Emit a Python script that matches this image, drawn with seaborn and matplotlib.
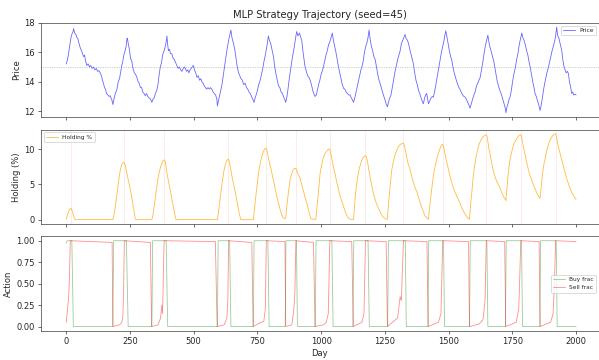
import matplotlib
matplotlib.use("Agg")
import matplotlib.pyplot as plt
import seaborn as sns
import pandas as pd

# ---------------- data ----------------
price_day = [0, 5, 10, 15, 20, 24, 27, 29, 33, 38, 42, 46, 50, 55, 60, 64, 68, 72, 76, 81,
             86, 91, 96, 101, 107, 112, 118, 123, 128, 133, 138, 142, 146, 150, 154, 158, 163, 168, 172, 176, 180, 183,
             187, 191, 195, 199, 204, 209, 214, 218, 222, 226, 231, 235, 238, 240,
             244, 248, 252, 257, 262, 267, 272, 277, 282, 286, 291, 296, 300, 305, 310, 315, 320, 325, 330, 336,
             340, 345, 350, 355, 360, 364, 369, 374, 378, 382, 386, 390, 393, 395,
             398, 401, 405, 409, 414, 419, 424, 429, 434, 439, 444, 449, 454, 459, 463, 467, 472, 477, 481, 486,
             490, 494, 499, 503, 508, 513, 518, 523, 528, 532, 537, 542, 546, 551, 556, 561, 566, 571, 576, 581, 586, 591, 593,
             597, 601, 606, 611, 616, 621, 626, 630, 634, 638, 642, 646,
             650, 656, 661, 666, 671, 676, 681, 686, 691, 696, 702, 707, 712, 717, 722, 727, 732, 737,
             741, 745, 750, 755, 761, 766, 771, 776, 780, 785, 789, 793,
             797, 802, 807, 813, 818, 823, 828, 833, 838, 843, 848, 852, 857, 861,
             865, 870, 875, 880, 885, 890, 895, 900, 904, 909, 915,
             920, 924, 929, 933, 937, 942, 947, 952, 957, 962, 967, 971, 976,
             981, 986, 990, 995, 1000, 1004, 1009, 1014, 1019, 1024, 1029, 1034, 1039, 1044,
             1048, 1053, 1058, 1063, 1068, 1073, 1078, 1083, 1088, 1093, 1098, 1103, 1108, 1114, 1118, 1122, 1127,
             1132, 1137, 1142, 1147, 1152, 1156, 1160, 1165, 1170, 1175, 1179, 1184, 1188,
             1192, 1197, 1202, 1207, 1212, 1217, 1222, 1227, 1231, 1236, 1241, 1246, 1250, 1255, 1260,
             1264, 1269, 1274, 1279, 1284, 1289, 1294, 1300, 1305, 1310, 1315, 1320, 1325, 1329,
             1334, 1339, 1344, 1349, 1355, 1362, 1367, 1372, 1377, 1382, 1387, 1392, 1396, 1401,
             1406, 1410, 1414, 1418, 1421, 1426, 1431, 1436, 1440, 1445, 1450, 1455, 1460, 1467, 1472, 1477, 1482, 1486, 1489,
             1494, 1499, 1503, 1508, 1512, 1517, 1522, 1527, 1532, 1539, 1544, 1549, 1555, 1560, 1565, 1570, 1575, 1580, 1584,
             1589, 1594, 1599, 1604, 1609, 1614, 1619, 1624, 1629, 1634, 1639, 1644, 1649, 1654,
             1658, 1663, 1668, 1672, 1676, 1681, 1686, 1691, 1696, 1701, 1706, 1711, 1716, 1721, 1725, 1729, 1733, 1737, 1741,
             1746, 1751, 1756, 1761, 1767, 1772, 1777, 1782, 1787,
             1791, 1796, 1801, 1806, 1811, 1815, 1820, 1825, 1830, 1835, 1839, 1844, 1849, 1854, 1859,
             1863, 1868, 1872, 1877, 1882, 1887, 1892, 1897, 1902, 1906, 1911, 1915, 1919, 1924,
             1928, 1932, 1936, 1940, 1944, 1948, 1953, 1957, 1961, 1966, 1970, 1974, 1979, 1983, 1987, 1991, 1996, 2000]
price_val = [15.2, 15.5, 16.0, 16.6, 17.1, 17.3, 17.4, 17.6, 17.3, 17.2, 17.0, 16.9, 16.6, 16.3, 16.1, 15.9, 15.7, 15.8, 15.4, 15.1,
             15.2, 15.0, 15.1, 14.9, 15.0, 14.8, 14.9, 14.7, 14.75, 14.6, 14.4, 14.1, 13.9, 13.6, 13.5, 13.2, 13.1, 13.0, 13.05, 12.9, 12.7, 12.45,
             12.8, 13.1, 13.3, 13.5, 14.0, 14.2, 14.7, 15.1, 15.4, 15.8, 16.1, 16.4, 16.9, 16.95,
             16.5, 16.2, 15.6, 15.4, 14.9, 14.6, 14.5, 14.3, 14.0, 13.9, 13.6, 13.6, 13.3, 13.2, 13.05, 13.2, 13.0, 12.9, 12.85, 12.6,
             12.8, 12.9, 13.2, 13.4, 13.8, 14.4, 15.0, 15.3, 15.8, 16.0, 16.2, 16.5, 16.8, 17.1,
             16.5, 16.1, 16.2, 15.9, 15.9, 15.6, 15.5, 15.3, 15.1, 14.9, 15.0, 14.8, 14.7, 14.9, 15.0, 14.9, 14.7, 14.8, 14.6, 14.8,
             14.9, 15.0, 15.1, 14.8, 14.6, 14.3, 14.4, 14.1, 14.2, 14.0, 13.9, 13.7, 13.6, 13.5, 13.6, 13.5, 13.6, 13.5, 13.3, 13.2, 13.1, 12.8, 12.35,
             12.7, 13.0, 13.4, 13.8, 14.4, 15.0, 15.6, 16.1, 16.5, 16.9, 17.2, 17.5,
             17.0, 16.6, 16.2, 15.6, 15.0, 14.6, 14.4, 14.2, 14.1, 13.8, 13.9, 13.6, 13.5, 13.3, 13.2, 13.0, 12.8, 12.6,
             12.9, 13.1, 13.4, 13.8, 14.1, 14.5, 14.9, 15.4, 15.7, 16.2, 16.6, 17.1,
             16.8, 16.6, 16.2, 15.7, 15.0, 14.5, 14.1, 13.7, 13.6, 13.3, 13.2, 13.0, 12.8, 12.6,
             12.9, 13.5, 14.2, 14.8, 15.4, 15.9, 16.4, 17.0, 17.4, 17.1, 17.3,
             17.0, 16.8, 16.0, 15.5, 15.0, 14.7, 14.4, 14.3, 14.1, 13.8, 13.4, 13.2, 13.0,
             13.1, 13.5, 13.8, 14.1, 14.5, 14.7, 15.0, 15.4, 15.8, 16.1, 16.5, 16.7, 17.0, 17.3,
             16.8, 16.4, 16.0, 15.5, 15.0, 14.6, 14.2, 13.8, 13.55, 13.5, 13.3, 13.2, 13.1, 13.1, 12.9, 12.8, 12.6,
             12.9, 13.3, 13.7, 14.1, 14.5, 14.8, 15.0, 15.4, 16.0, 16.4, 16.6, 17.0, 17.5,
             16.9, 16.4, 16.1, 15.7, 15.5, 15.0, 14.5, 14.1, 13.9, 13.6, 13.3, 13.0, 12.8, 12.5, 12.3,
             12.6, 12.9, 13.1, 13.6, 14.1, 14.6, 15.0, 15.5, 15.8, 16.1, 16.6, 16.8, 17.0, 17.2,
             16.9, 16.8, 16.5, 16.1, 15.7, 15.2, 14.6, 14.1, 13.8, 13.4, 13.2, 12.9, 12.7, 12.5,
             12.9, 13.1, 13.2, 12.8, 12.5, 12.7, 12.9, 13.0, 12.95, 13.3, 13.8, 14.3, 14.8, 15.5, 16.0, 16.4, 16.8, 17.2, 17.45,
             17.0, 16.5, 16.1, 15.7, 15.5, 15.0, 14.6, 14.3, 14.0, 13.65, 13.5, 13.3, 13.1, 13.0, 12.95, 12.8, 12.6, 12.4, 12.2,
             12.5, 12.8, 13.1, 13.3, 13.7, 13.9, 14.1, 14.3, 14.8, 15.3, 15.9, 16.4, 16.8, 17.15,
             16.7, 16.3, 16.0, 15.7, 15.5, 15.0, 14.5, 14.0, 13.7, 13.4, 13.2, 12.9, 12.6, 12.3, 11.9, 12.3, 12.5, 12.8, 12.95,
             13.4, 14.0, 14.5, 14.9, 15.5, 15.9, 16.5, 16.9, 17.3,
             17.0, 16.8, 16.5, 16.1, 15.8, 15.4, 15.0, 14.5, 14.0, 13.6, 13.2, 13.0, 12.7, 12.4, 12.05,
             12.4, 12.9, 13.4, 13.9, 14.3, 14.7, 15.0, 15.4, 15.8, 16.1, 16.4, 16.7, 17.0, 17.7,
             17.1, 17.0, 16.7, 16.4, 16.1, 15.5, 15.0, 14.8, 14.6, 14.7, 14.55, 14.0, 13.6, 13.2, 13.3, 13.1, 13.15, 13.1]

holding_day = [0, 6, 12, 18, 24, 30, 35, 183, 187, 191, 195, 199, 204, 208, 212, 216, 220, 224, 228, 232, 237, 242, 247, 251, 256, 261, 266, 271, 275,
               336, 340, 344, 348, 352, 356, 360, 364, 369, 374, 379, 384, 388, 392, 396, 400, 404, 408, 413, 418, 423, 428, 431,
               593, 597, 601, 606, 611, 615, 619, 624, 628, 632, 636, 640, 644, 648, 652, 656, 660, 664, 668, 672, 676, 680, 685,
               734, 738, 742, 746, 750, 754, 758, 763, 767, 772, 777, 781, 785, 789, 793, 797, 802, 807, 812, 817, 822, 826, 831, 836, 841, 846, 851, 856,
               861, 865, 869, 874, 878, 883, 888, 893, 897, 901, 905, 909, 914, 918, 923, 927, 932, 936, 940, 944, 948, 952, 957, 960,
               979, 983, 987, 992, 996, 1000, 1004, 1008, 1012, 1016, 1021, 1026, 1030, 1034, 1038, 1042, 1046, 1050, 1054, 1058, 1062, 1067, 1071, 1075, 1079, 1084, 1088, 1093, 1098, 1103, 1107, 1112, 1117, 1122,
               1127, 1131, 1135, 1140, 1145, 1150, 1155, 1160, 1165, 1170, 1174, 1178, 1182, 1186, 1190, 1195, 1199, 1204, 1209, 1214, 1219, 1225, 1231, 1237, 1243, 1249, 1255,
               1260, 1264, 1268, 1272, 1277, 1282, 1287, 1292, 1297, 1302, 1307, 1312, 1318, 1323, 1327, 1331, 1336, 1340, 1345, 1349, 1354, 1359, 1364, 1370, 1375, 1381, 1387, 1393, 1401, 1407, 1413, 1417,
               1421, 1425, 1430, 1435, 1440, 1445, 1450, 1455, 1460, 1465, 1469, 1473, 1477, 1481, 1485, 1490, 1495, 1500, 1506, 1512, 1518, 1524, 1530, 1539, 1546, 1553, 1560, 1566, 1572, 1577,
               1582, 1586, 1590, 1594, 1597, 1602, 1607, 1612, 1617, 1622, 1627, 1632, 1637, 1642, 1646, 1650, 1654, 1658, 1663, 1669, 1675, 1681, 1688, 1696, 1703, 1710, 1717, 1722,
               1725, 1729, 1733, 1737, 1741, 1746, 1751, 1756, 1761, 1766, 1771, 1776, 1780, 1783, 1787, 1791, 1796, 1801, 1807, 1813, 1819, 1826, 1833, 1840, 1847, 1853,
               1859, 1863, 1867, 1871, 1875, 1878, 1883, 1888, 1893, 1898, 1903, 1908, 1913, 1917, 1920, 1924, 1928, 1933, 1938, 1944, 1950, 1956, 1963, 1970, 1977, 1984, 1992, 2000]
holding_val = [0.05, 0.8, 1.4, 1.62, 1.2, 0.4, 0.0, 0.0, 0.6, 1.5, 2.6, 3.75, 5.0, 6.1, 7.0, 7.6, 8.0, 8.15, 8.1, 7.6, 6.7, 5.9, 5.1, 4.4, 3.4, 2.3, 1.2, 0.1, 0.0,
               0.0, 0.6, 1.6, 2.7, 3.8, 4.9, 5.8, 6.6, 7.3, 7.9, 8.3, 8.48, 8.3, 7.3, 6.4, 5.7, 4.9, 4.2, 3.2, 2.3, 1.3, 0.4, 0.0,
               0.0, 1.0, 2.2, 3.6, 5.1, 6.1, 7.0, 7.8, 8.2, 8.5, 8.58, 8.2, 7.4, 6.6, 5.8, 5.1, 4.4, 3.75, 2.9, 2.2, 1.4, 0.7, 0.0,
               0.0, 1.3, 2.8, 4.0, 5.3, 6.5, 7.4, 8.3, 8.95, 9.5, 9.9, 10.1, 10.14, 9.6, 8.8, 8.1, 7.4, 6.6, 5.7, 4.9, 4.0, 3.3, 2.6, 1.9, 1.2, 0.67, 0.3, 0.15,
               0.2, 1.8, 3.1, 4.5, 5.6, 6.4, 6.9, 7.2, 7.3, 7.25, 6.9, 6.5, 6.1, 5.85, 5.1, 4.5, 3.9, 3.3, 2.8, 2.3, 1.7, 1.1, 0.4, 0.1,
               0.05, 1.5, 3.0, 5.0, 6.6, 7.4, 8.1, 8.7, 9.1, 9.45, 9.7, 9.9, 10.0, 10.0, 9.4, 8.6, 7.9, 7.2, 6.6, 5.9, 5.2, 4.5, 3.8, 3.3, 2.8, 2.3, 1.85, 1.3, 0.8, 0.45, 0.2, 0.08, 0.04, 0.02,
               0.02, 2.0, 3.8, 5.2, 6.4, 7.3, 7.9, 8.48, 8.8, 9.0, 9.05, 8.9, 8.2, 7.3, 6.5, 5.5, 4.7, 3.9, 3.2, 2.6, 2.1, 1.6, 1.1, 0.7, 0.4, 0.2, 0.08,
               0.06, 2.2, 3.8, 5.3, 7.06, 8.0, 8.8, 9.4, 9.9, 10.3, 10.55, 10.7, 10.8, 10.85, 10.5, 9.7, 8.8, 8.1, 7.5, 7.06, 6.3, 5.6, 5.0, 4.4, 3.98, 3.3, 2.6, 1.9, 1.14, 0.6, 0.3, 0.15,
               0.06, 1.6, 3.2, 4.7, 6.1, 7.2, 8.0, 8.8, 9.43, 9.9, 10.3, 10.6, 10.7, 10.3, 9.5, 8.6, 7.8, 7.0, 6.1, 5.3, 4.6, 4.0, 3.5, 2.8, 2.2, 1.6, 1.1, 0.7, 0.4, 0.2,
               0.06, 2.0, 3.5, 5.0, 6.3, 7.7, 8.8, 9.6, 10.37, 10.9, 11.3, 11.6, 11.8, 11.95, 12.03, 11.9, 11.1, 10.1, 9.2, 8.0, 7.0, 6.2, 5.5, 4.93, 4.3, 3.7, 3.2, 2.9,
               2.7, 4.5, 6.2, 7.5, 8.48, 9.4, 10.1, 10.7, 11.08, 11.4, 11.7, 11.9, 12.0, 12.03, 11.6, 10.8, 9.9, 9.0, 8.0, 7.1, 6.3, 5.6, 4.93, 4.3, 3.7, 3.3,
               3.04, 4.6, 6.0, 7.2, 8.1, 8.48, 9.5, 10.2, 10.8, 11.3, 11.6, 11.9, 12.1, 12.15, 12.17, 11.6, 10.8, 10.0, 9.3, 8.48, 7.6, 6.8, 5.88, 5.1, 4.4, 3.8, 3.3, 2.9]

sell_event_days = [18, 227, 384, 636, 785, 901, 1034, 1174, 1323, 1477, 1648, 1783, 1920]

buy_day = [0, 4, 22, 28, 183, 186, 236, 243, 336, 339, 392, 398, 593, 596, 641, 646, 734, 737, 791, 796,
           859, 862, 903, 907, 977, 980, 1042, 1047, 1125, 1128, 1184, 1189, 1261, 1264, 1330, 1334,
           1419, 1422, 1480, 1484, 1582, 1585, 1650, 1654, 1723, 1726, 1786, 1790, 1858, 1861, 1922, 1926, 2000]
buy_val = [0.97, 1.0, 1.0, 0.0, 0.0, 1.0, 1.0, 0.0, 0.0, 1.0, 1.0, 0.0, 0.0, 1.0, 1.0, 0.0, 0.0, 1.0, 1.0, 0.0,
           0.0, 1.0, 1.0, 0.0, 0.0, 1.0, 1.0, 0.0, 0.0, 1.0, 1.0, 0.0, 0.0, 1.0, 1.0, 0.0,
           0.0, 1.0, 1.0, 0.0, 0.0, 1.0, 1.0, 0.0, 0.0, 1.0, 1.0, 0.0, 0.0, 1.0, 1.0, 0.0, 0.0]

sell_day = [0, 5, 9, 12, 16, 180, 183, 210, 218, 222, 225, 228, 330, 335, 360, 370, 375, 378, 381, 384,
            585, 592, 620, 630, 634, 637, 728, 733, 765, 775, 781, 785, 858, 861, 885, 893, 897, 901,
            970, 976, 1010, 1020, 1028, 1034, 1120, 1126, 1160, 1168, 1174, 1255, 1260, 1300, 1310, 1315, 1318, 1323,
            1415, 1420, 1460, 1470, 1477, 1578, 1582, 1620, 1635, 1643, 1648, 1720, 1724, 1765, 1775, 1778, 1783,
            1855, 1859, 1900, 1910, 1915, 1920, 2000]
sell_val = [0.05, 0.2, 0.32, 0.5, 1.0, 0.98, 0.0, 0.02, 0.05, 0.1, 0.4, 1.0, 0.98, 0.0, 0.02, 0.1, 0.25, 0.15, 0.6, 1.0,
            0.99, 0.0, 0.02, 0.1, 0.3, 1.0, 0.98, 0.0, 0.05, 0.06, 0.2, 1.0, 0.99, 0.0, 0.02, 0.2, 0.4, 1.0,
            0.98, 0.0, 0.02, 0.05, 0.15, 1.0, 0.99, 0.0, 0.05, 0.15, 1.0, 0.99, 0.0, 0.1, 0.35, 0.3, 0.6, 1.0,
            0.99, 0.0, 0.05, 0.15, 1.0, 0.99, 0.0, 0.03, 0.08, 0.3, 1.0, 0.99, 0.0, 0.05, 0.2, 0.45, 1.0,
            0.99, 0.0, 0.05, 0.15, 0.5, 1.0, 0.99]

price_ref = 15.0

# ---------------- figure ----------------
sns.set_style("white")
plt.rcParams.update({"axes.edgecolor": "#333333", "xtick.bottom": True, "ytick.left": True,
                     "font.family": ["DejaVu Sans"]})

fig, axes = plt.subplots(3, 1, figsize=(599 / 60, 6), dpi=60, sharex=True)
fig.subplots_adjust(left=0.068, right=1.0, top=0.937, bottom=0.081, hspace=0.132)
ax1, ax2, ax3 = axes

df_p = pd.DataFrame({"Day": price_day, "Price": price_val})
sns.lineplot(data=df_p, x="Day", y="Price", ax=ax1, color="blue", alpha=0.6, lw=1.0, label="Price")
ax1.axhline(price_ref, color="gray", ls=":", lw=0.8, alpha=0.8)
ax1.set_title("MLP Strategy Trajectory (seed=45)", fontsize=12)
ax1.set_ylabel("Price", fontsize=10)
ax1.set_yticks([12, 14, 16, 18])
ax1.set_ylim(11.6, 18.0)
ax1.legend(loc="upper right", fontsize=7)

df_h = pd.DataFrame({"Day": holding_day, "Holding": holding_val})
for d in sell_event_days:
    ax2.axvline(d, color="red", alpha=0.12, lw=0.8)
sns.lineplot(data=df_h, x="Day", y="Holding", ax=ax2, color="orange", alpha=0.75, lw=1.0, label="Holding %")
ax2.set_ylabel("Holding (%)", fontsize=10)
ax2.set_yticks([0, 5, 10])
ax2.legend(loc="upper left", fontsize=7)

df_b = pd.DataFrame({"Day": buy_day, "v": buy_val})
df_s = pd.DataFrame({"Day": sell_day, "v": sell_val})
sns.lineplot(data=df_b, x="Day", y="v", ax=ax3, color="green", alpha=0.4, lw=1.0, label="Buy frac")
sns.lineplot(data=df_s, x="Day", y="v", ax=ax3, color="red", alpha=0.45, lw=1.0, label="Sell frac")
ax3.set_ylabel("Action", fontsize=10)
ax3.set_xlabel("Day", fontsize=10)
ax3.set_yticks([0, 0.25, 0.5, 0.75, 1.0])
ax3.set_yticklabels(["0.00", "0.25", "0.50", "0.75", "1.00"])
ax3.legend(loc="center right", fontsize=7)

for ax in axes:
    ax.tick_params(labelsize=10, length=3.5, width=0.8)
    ax.set_xlim(-100, 2090)
ax3.set_xticks([0, 250, 500, 750, 1000, 1250, 1500, 1750, 2000])
ax1.set_xlabel("")
ax2.set_xlabel("")

fig.savefig("out.png", dpi=60)
